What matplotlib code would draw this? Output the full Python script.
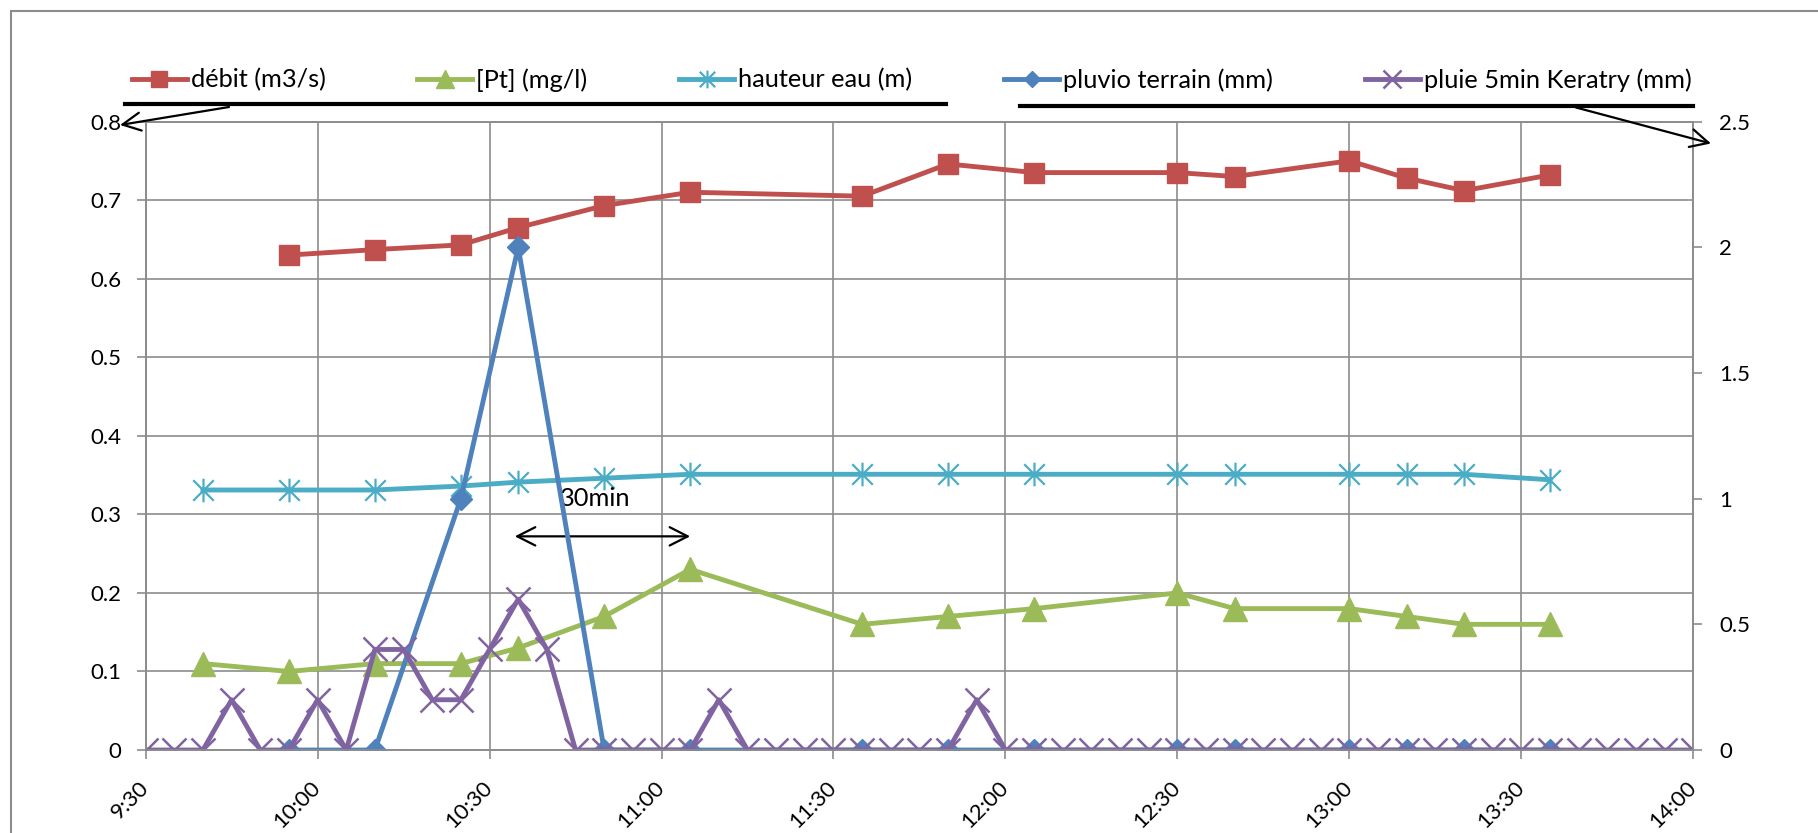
import numpy as np
import matplotlib.pyplot as plt
from matplotlib.path import Path
from matplotlib.patches import FancyArrowPatch, Rectangle
from matplotlib.lines import Line2D

plt.rcParams['font.family'] = ['Lato', 'DejaVu Sans']


def hm(s):
    h, m = s.split(':')
    return int(h) * 60 + int(m)


# prélèvements (débit, phosphore, hauteur d'eau, pluviomètre terrain)
times = ['9:40', '9:55', '10:10', '10:25', '10:35', '10:50', '11:05', '11:35',
         '11:50', '12:05', '12:30', '12:40', '13:00', '13:10', '13:20', '13:35']
debit = [np.nan, 0.630, 0.637, 0.643, 0.665, 0.693, 0.710, 0.705,
         0.746, 0.735, 0.735, 0.730, 0.750, 0.728, 0.712, 0.732]
pt = [0.11, 0.10, 0.11, 0.11, 0.13, 0.17, 0.23, 0.16,
      0.17, 0.18, 0.20, 0.18, 0.18, 0.17, 0.16, 0.16]
hauteur = [0.331, 0.331, 0.331, 0.336, 0.341, 0.346, 0.351, 0.351,
           0.351, 0.351, 0.351, 0.351, 0.351, 0.351, 0.351, 0.344]
pluvio = [np.nan, 0, 0, 1.0, 2.0, 0, 0, 0, 0, 0, 0, 0, 0, 0, 0, 0]

# pluie 5 min à Keratry, de 9:30 à 14:00
rain_start, rain_end = '9:30', '14:00'
pluie = [0, 0, 0, 0.2, 0, 0, 0.2, 0, 0.4, 0.4,
         0.2, 0.2, 0.4, 0.6, 0.4, 0, 0, 0, 0, 0,
         0.2, 0, 0, 0, 0, 0, 0, 0, 0, 0.2,
         0, 0, 0, 0, 0, 0, 0, 0, 0, 0,
         0, 0, 0, 0, 0, 0, 0, 0, 0, 0,
         0, 0, 0, 0, 0]

xticks = ['9:30', '10:00', '10:30', '11:00', '11:30', '12:00',
          '12:30', '13:00', '13:30', '14:00']
left_ticks = [0, 0.1, 0.2, 0.3, 0.4, 0.5, 0.6, 0.7, 0.8]
right_ticks = [0, 0.5, 1, 1.5, 2, 2.5]

t = [hm(s) for s in times]
t_rain = np.arange(hm(rain_start), hm(rain_end) + 1, 5)

# asterisque façon Excel
star = Path([(-1, -1), (1, 1), (-1, 1), (1, -1), (0, -1.15), (0, 1.15)],
            [Path.MOVETO, Path.LINETO] * 3)

fs = 16
fs_leg = 18.3
fig = plt.figure(figsize=(18.18, 8.33), dpi=100)
ax = fig.add_axes([0.0801, 0.0996, 0.8513, 0.7545])
ax2 = ax.twinx()

lw = 3.5
l1, = ax.plot(t, debit, color='#C0504D', lw=lw, marker='s', ms=15,
              mec='#C0504D', label='débit (m3/s)')
l2, = ax.plot(t, pt, color='#9BBB59', lw=lw, marker='^', ms=17,
              mec='#9BBB59', label='[Pt] (mg/l)')
l3, = ax.plot(t, hauteur, color='#4BACC6', lw=lw, marker=star, ms=17,
              mew=1.6, mfc='none', mec='#4BACC6', label='hauteur eau (m)')
l4, = ax2.plot(t, pluvio, color='#4F81BD', lw=lw, marker='D', ms=11.5,
               mec='#4F81BD', label='pluvio terrain (mm)')
l5, = ax2.plot(t_rain, pluie, color='#8064A2', lw=lw, marker='x', ms=17,
               mew=1.8, label='pluie 5min Keratry (mm)')

x0, x1 = hm(xticks[0]), hm(xticks[-1])
ax.set_xlim(x0, x1)
ax.set_ylim(0, 0.8)
ax2.set_ylim(0, 2.5)

ax.set_xticks([hm(s) for s in xticks])
ax.set_xticklabels(xticks)
ax.set_yticks(left_ticks)
ax.set_yticklabels([f'{v:g}' for v in left_ticks])
ax2.set_yticks(right_ticks)
ax2.set_yticklabels([f'{v:g}' for v in right_ticks])

grid_c = '#8c8c8c'
ax.grid(True, color=grid_c, lw=1.2)
ax.set_axisbelow(True)
for a in (ax, ax2):
    for sp in a.spines.values():
        sp.set_color(grid_c)
        sp.set_linewidth(1.2)
ax.tick_params(axis='both', colors=grid_c, labelcolor='black', labelsize=fs,
               length=6.5, width=1.2)
ax.tick_params(axis='y', pad=11)
ax.tick_params(axis='x', pad=18)
ax2.tick_params(axis='y', colors=grid_c, labelcolor='black', labelsize=fs,
                length=6.5, width=1.2, pad=12)
plt.setp(ax.get_xticklabels(), rotation=45, ha='right', va='center',
         rotation_mode='anchor')

# légende sur une ligne, au-dessus du graphique
handles = [l1, l2, l3, l4, l5]
leg = ax2.legend(handles, [h.get_label() for h in handles],
                 ncol=5, loc='center left', bbox_to_anchor=(0.0724, 0.904),
                 bbox_transform=fig.transFigure, frameon=False, fontsize=fs_leg,
                 handlelength=39.6 / fs_leg, handletextpad=3 / fs_leg,
                 columnspacing=66 / fs_leg, borderpad=0, borderaxespad=0,
                 markerscale=0.75)


def px(x, y):
    return (x / 1818, 1 - y / 833)


# traits noirs sous la légende et flèches vers les axes
for xa, xb, y in [(125, 946, 103.5), (1020, 1693, 106)]:
    fig.add_artist(Line2D([px(xa, y)[0], px(xb, y)[0]], [px(xa, y)[1], px(xb, y)[1]],
                          transform=fig.transFigure, color='black', lw=3))
for (xa, ya), (xb, yb) in [((229, 107), (120, 125)), ((1576, 107.5), (1711, 143.5))]:
    fig.add_artist(FancyArrowPatch(px(xa, ya), px(xb, yb), transform=fig.transFigure,
                                   arrowstyle='->,head_length=13,head_width=6.5',
                                   color='black', lw=1.6, shrinkA=0, shrinkB=0))

# décalage de 30 min entre pic de pluie et pic de [Pt]
ax.annotate('', xy=(hm('11:05'), 0.272), xytext=(634.4, 0.272),
            arrowprops=dict(arrowstyle='<->,head_length=0.65,head_width=0.33',
                            color='black', lw=1.6, shrinkA=0, shrinkB=0,
                            mutation_scale=20))
ax.text(648.5, 0.32, '30min', ha='center', va='center', fontsize=fs_leg)

# cadre du graphique
fig.add_artist(Rectangle(px(11, 900), 2, (900 - 11) / 833, transform=fig.transFigure,
                         fill=False, ec='#8c8c8c', lw=1.5))

fig.savefig('out.png', dpi=100)
